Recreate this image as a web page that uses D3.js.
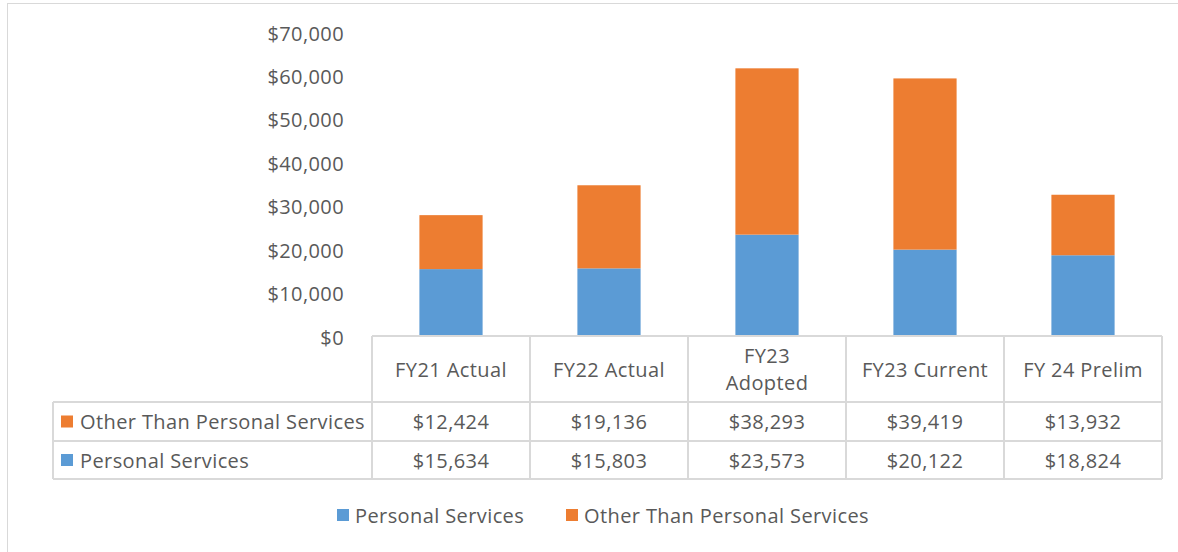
<!DOCTYPE html>
<meta charset="utf-8">

<head>
  <title>Budget chart</title>
  <style>
    body { margin: 0; background: #fff; }
    svg { display: block; }
    text { font-family: "Open Sans", Lato, sans-serif; fill: #595959; letter-spacing: 0.4px; }
  </style>
  <script src="https://d3js.org/d3.v7.min.js"></script>
</head>

<body>
  <div id="content"></div>

  <script>
    // data
    var categories = ['FY21 Actual', 'FY22 Actual', 'FY23 Adopted', 'FY23 Current', 'FY 24 Prelim'];
    var catLines = [['FY21 Actual'], ['FY22 Actual'], ['FY23', 'Adopted'], ['FY23 Current'], ['FY 24 Prelim']];
    var personal = [15634, 15803, 23573, 20122, 18824];
    var otherThan = [12424, 19136, 38293, 39419, 13932];
    var seriesNames = ['Personal Services', 'Other Than Personal Services'];
    var yTicks = [0, 10000, 20000, 30000, 40000, 50000, 60000, 70000];

    var colors = ['#5B9BD5', '#ED7D31'];
    var width = 1178, height = 552;
    var fs = '20px';

    var svg = d3.select('#content').append('svg')
      .attr('width', width)
      .attr('height', height);

    // chart border (runs off the right/bottom of the picture)
    svg.append('rect')
      .attr('x', 7.5).attr('y', 3.5)
      .attr('width', 1200).attr('height', 600)
      .attr('fill', 'none')
      .attr('stroke', '#d9d9d9');

    // title, mostly above the picture
    svg.append('text')
      .attr('x', 190).attr('y', -4)
      .style('font-size', '18px')
      .style('font-weight', 'bold')
      .style('fill', '#000')
      .text('Expenditure by Type');
    svg.append('text')
      .attr('x', 500).attr('y', -4)
      .style('font-size', '18px')
      .style('fill', '#7f7f7f')
      .text('(in thousands)');

    var x = d3.scaleBand()
      .domain(categories)
      .range([372, 1162])
      .paddingInner(0)
      .paddingOuter(0);

    var y = d3.scaleLinear()
      .domain([0, 70000])
      .range([337, 33]);

    // y axis labels
    svg.append('g').selectAll('text')
      .data(yTicks)
      .join('text')
      .attr('x', 344)
      .attr('y', function (d) { return y(d); })
      .attr('text-anchor', 'end')
      .attr('dominant-baseline', 'central')
      .style('font-size', fs)
      .text(function (d) { return '$' + d3.format(',')(d); });

    // stacked bars
    var rows = categories.map(function (c, i) {
      return { cat: c, personal: personal[i], other: otherThan[i] };
    });
    var stack = d3.stack().keys(['personal', 'other'])(rows);
    var barW = x.bandwidth() * 0.4;

    svg.append('g').selectAll('g')
      .data(stack)
      .join('g')
      .attr('fill', function (d, i) { return colors[i]; })
      .selectAll('rect')
      .data(function (d) { return d; })
      .join('rect')
      .attr('x', function (d) { return x(d.data.cat) + (x.bandwidth() - barW) / 2; })
      .attr('y', function (d) { return y(d[1]); })
      .attr('width', barW)
      .attr('height', function (d) { return y(d[0]) - y(d[1]); });

    // data table
    var grid = '#d9d9d9';
    var tTop = 336, rowH = [66, 39, 38];
    var r1 = tTop + rowH[0], r2 = r1 + rowH[1], r3 = r2 + rowH[2];
    var tableLeft = 53;
    var tg = svg.append('g').attr('stroke', grid).attr('stroke-width', 2).attr('fill', 'none');

    tg.append('line').attr('x1', 372).attr('x2', 1162).attr('y1', tTop).attr('y2', tTop);
    [r1, r2, r3].forEach(function (yy) {
      tg.append('line').attr('x1', tableLeft).attr('x2', 1162).attr('y1', yy).attr('y2', yy);
    });
    tg.append('line').attr('x1', tableLeft).attr('x2', tableLeft).attr('y1', r1).attr('y2', r3);
    categories.forEach(function (c) {
      tg.append('line').attr('x1', x(c)).attr('x2', x(c)).attr('y1', tTop).attr('y2', r3);
    });
    tg.append('line').attr('x1', 1162).attr('x2', 1162).attr('y1', tTop).attr('y2', r3);

    // category labels
    categories.forEach(function (c, i) {
      var lines = catLines[i];
      var cy = tTop + rowH[0] / 2;
      lines.forEach(function (l, j) {
        svg.append('text')
          .attr('x', x(c) + x.bandwidth() / 2)
          .attr('y', cy + (j - (lines.length - 1) / 2) * 27)
          .attr('text-anchor', 'middle')
          .attr('dominant-baseline', 'central')
          .style('font-size', fs)
          .text(l);
      });
    });

    // value rows: OTPS first, then Personal
    var tableRows = [
      { name: seriesNames[1], vals: otherThan, color: colors[1], y: (r1 + r2) / 2 },
      { name: seriesNames[0], vals: personal, color: colors[0], y: (r2 + r3) / 2 }
    ];
    tableRows.forEach(function (r) {
      svg.append('rect')
        .attr('x', 61).attr('y', r.y - 6)
        .attr('width', 12).attr('height', 12)
        .attr('fill', r.color);
      svg.append('text')
        .attr('x', 80).attr('y', r.y)
        .attr('dominant-baseline', 'central')
        .style('font-size', fs)
        .text(r.name);
      r.vals.forEach(function (v, i) {
        svg.append('text')
          .attr('x', x(categories[i]) + x.bandwidth() / 2)
          .attr('y', r.y)
          .attr('text-anchor', 'middle')
          .attr('dominant-baseline', 'central')
          .style('font-size', fs)
          .text('$' + d3.format(',')(v));
      });
    });

    // legend
    var legendX = [337, 566];
    seriesNames.forEach(function (n, i) {
      svg.append('rect')
        .attr('x', legendX[i]).attr('y', 509)
        .attr('width', 12).attr('height', 12)
        .attr('fill', colors[i]);
      svg.append('text')
        .attr('x', legendX[i] + 18).attr('y', 515)
        .attr('dominant-baseline', 'central')
        .style('font-size', fs)
        .text(n);
    });
  </script>
</body>

</html>
